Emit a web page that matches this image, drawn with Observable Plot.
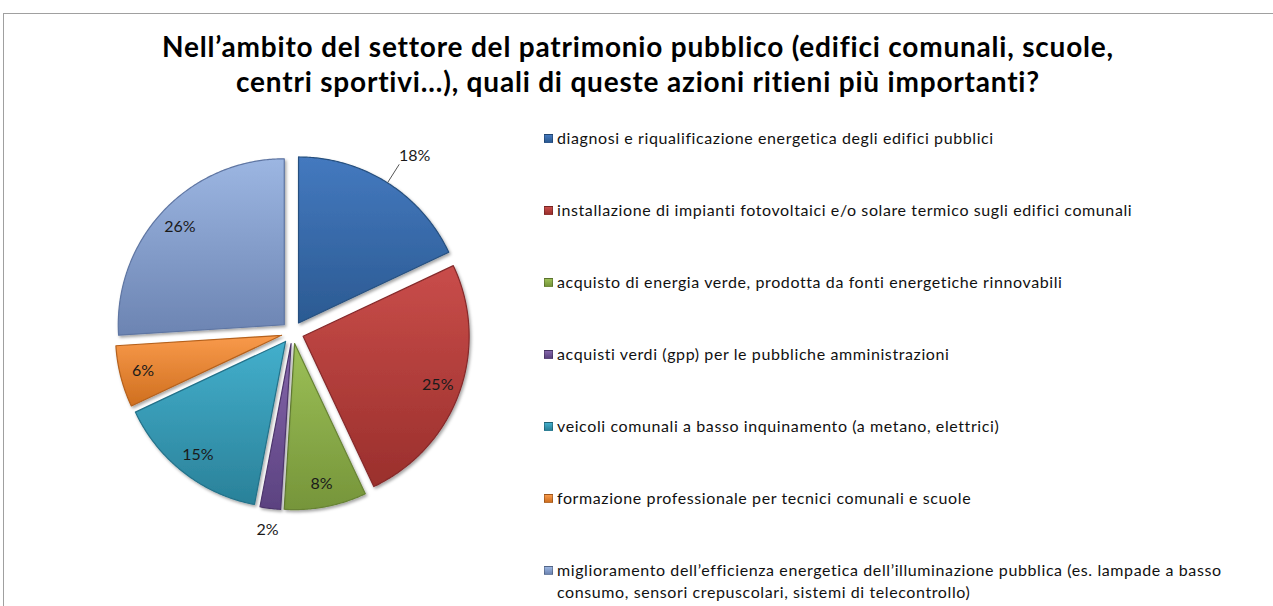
<!DOCTYPE html>
<html><head><meta charset="utf-8">
<script src="https://cdn.jsdelivr.net/npm/d3@7"></script>
<script src="https://cdn.jsdelivr.net/npm/@observablehq/plot@0.6"></script>
<style>
body{margin:0;background:#fff;}
#wrap{position:relative;width:1273px;height:606px;overflow:hidden;font-family:Lato,"Open Sans",sans-serif;background:#fff;}
#frame{position:absolute;left:3px;top:13px;width:1400px;height:700px;border:1.5px solid #a0a0a0;box-sizing:border-box;}
#title{position:absolute;left:0;top:29px;width:1276px;text-align:center;font-weight:bold;font-size:28px;letter-spacing:0.8px;line-height:35px;color:#000;}
#chart{position:absolute;left:0;top:0;}
#legend{position:absolute;left:544px;top:0;}
.item{position:absolute;left:0;display:flex;align-items:flex-start;font-size:16px;letter-spacing:0.6px;line-height:22px;color:#111;white-space:normal;}
.sw{width:9px;height:9px;margin-top:7px;margin-right:4px;flex:none;border:0.5px solid rgba(0,0,0,0.25);box-sizing:border-box;}
.txt{width:690px;}
</style></head>
<body>
<div id="wrap">
  <div id="frame"></div>
  <div id="title"></div>
  <div id="chart"></div>
  <div id="legend"></div>
</div>
<script>
// ---- data ----
const titleLines = [
  "Nell’ambito del settore del patrimonio pubblico (edifici comunali, scuole,",
  "centri sportivi…), quali di queste azioni ritieni più importanti?"
];
const categories = [
  "diagnosi e riqualificazione energetica degli edifici pubblici",
  "installazione di impianti fotovoltaici e/o solare termico sugli edifici comunali",
  "acquisto di energia verde, prodotta da fonti energetiche rinnovabili",
  " acquisti verdi (gpp) per le pubbliche amministrazioni",
  " veicoli comunali a basso inquinamento (a metano, elettrici)",
  "formazione professionale per tecnici comunali e scuole",
  "miglioramento dell’efficienza energetica dell’illuminazione pubblica (es. lampade a basso consumo, sensori crepuscolari, sistemi di telecontrollo)"
];
const values = [18, 25, 8, 2, 15, 6, 26];

// ---- styles ----
const gradTop    = ["#4479bf", "#c94d4a", "#9cc057", "#8566ab", "#43afcc", "#f99a4b", "#9cb6e2"];
const gradBottom = ["#2b5a92", "#9a2f2c", "#76953a", "#5b4280", "#2a8199", "#cf6f1f", "#6c84b2"];
const rims       = ["#26507f", "#85292a", "#678334", "#4d366c", "#24728a", "#b5611c", "#5f76a3"];
const outsideLabel = [true, false, false, true, false, false, false];

const cx = 292, cy = 332, R = 166, explode = 0.068;

document.getElementById("title").innerHTML = titleLines.join("<br>");

const pie = d3.pie().sort(null).value(d => d)(values);
const total = d3.sum(values);

const slicePolys = pie.map((p, i) => {
  const mid = (p.startAngle + p.endAngle) / 2;
  const ox = explode * Math.sin(mid), oy = -explode * Math.cos(mid);
  const pts = [{x: ox, y: oy}];
  const n = Math.max(4, Math.ceil((p.endAngle - p.startAngle) / 0.01));
  for (let k = 0; k <= n; k++) {
    const a = p.startAngle + (p.endAngle - p.startAngle) * k / n;
    pts.push({x: ox + Math.sin(a), y: oy - Math.cos(a)});
  }
  pts.push({x: ox, y: oy});
  return pts;
});

const labels = pie.map((p, i) => {
  const mid = (p.startAngle + p.endAngle) / 2;
  const r = outsideLabel[i] ? (i === 0 ? 1.22 : 1.2) : 0.93;
  return {
    x: r * Math.sin(mid), y: -r * Math.cos(mid),
    text: Math.round(values[i] / total * 100) + "%",
    outside: outsideLabel[i], i, mid
  };
});
const leaders = labels.filter(d => d.outside && d.i === 0).map(d => ({
  x1: 1.07 * Math.sin(d.mid), y1: -1.07 * Math.cos(d.mid),
  x2: 1.2 * Math.sin(d.mid), y2: -1.2 * Math.cos(d.mid)
}));

const marks = slicePolys.map((pts, i) =>
  Plot.line(pts, {x: "x", y: "y", fill: `url(#sg${i})`, stroke: rims[i], strokeWidth: 1.2, strokeLinejoin: "round", curve: "linear"})
);
marks.push(Plot.link(leaders, {x1: "x1", y1: "y1", x2: "x2", y2: "y2", stroke: "#555", strokeWidth: 1}));
marks.push(Plot.text(labels.filter(d => !(d.outside && d.i === 0)), {x: "x", y: "y", text: "text", fontSize: 16, fill: "#1a1a1a", fontFamily: "Lato, 'Open Sans', sans-serif"}));
marks.push(Plot.text(labels.filter(d => d.outside && d.i === 0), {x: "x", y: "y", text: "text", fontSize: 16, fill: "#1a1a1a", textAnchor: "start", dx: -2, dy: -6, fontFamily: "Lato, 'Open Sans', sans-serif"}));

const svg = Plot.plot({
  width: 540, height: 606,
  marginTop: 0, marginBottom: 0, marginLeft: 0, marginRight: 0,
  x: {domain: [-1, 1], range: [cx - R, cx + R], axis: null},
  y: {domain: [-1, 1], range: [cy - R, cy + R], axis: null},
  style: {background: "transparent", overflow: "visible"},
  marks
});

const defs = d3.select(svg).insert("defs", ":first-child");
const f = defs.append("filter").attr("id", "shadow").attr("x", "-20%").attr("y", "-20%").attr("width", "140%").attr("height", "140%");
f.append("feDropShadow").attr("dx", 1.5).attr("dy", 2).attr("stdDeviation", 1.6).attr("flood-color", "#000").attr("flood-opacity", 0.35);
gradTop.forEach((c, i) => {
  const g = defs.append("linearGradient").attr("id", `sg${i}`).attr("x1", 0).attr("y1", 0).attr("x2", 0).attr("y2", 1);
  g.append("stop").attr("offset", "0%").attr("stop-color", c);
  g.append("stop").attr("offset", "100%").attr("stop-color", gradBottom[i]);
});
d3.select(svg).selectAll("g[aria-label=line] path").attr("filter", "url(#shadow)");
document.getElementById("chart").appendChild(svg);

// legend
const legend = d3.select("#legend");
categories.forEach((c, i) => {
  const item = legend.append("div").attr("class", "item").style("top", (138 + 72 * i - 11) + "px");
  item.append("div").attr("class", "sw").style("background", `linear-gradient(${gradTop[i]}, ${gradBottom[i]})`);
  item.append("div").attr("class", "txt").text(c);
});
</script>
</body></html>
